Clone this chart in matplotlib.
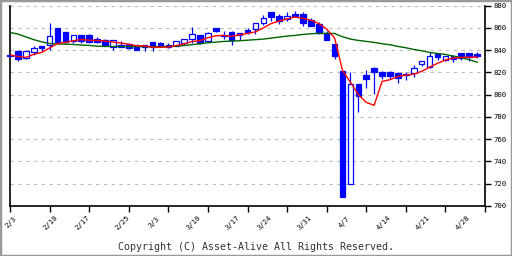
import matplotlib
matplotlib.use("Agg")
import matplotlib.pyplot as plt
import matplotlib.transforms as mtransforms
from matplotlib.patches import Rectangle

# daily candles (open, high, low, close), one per trading day from 2/3
opens = [835.8, 839.2, 833.2, 838.6, 843.7, 844.3, 859.9, 856.3, 847.9, 853.6,
         853.6, 849.7, 849.1, 843.1, 844.9, 845.8, 843.4, 843.1, 847.3, 846.4,
         844.6, 844.0, 846.1, 849.7, 853.6, 848.5, 859.9, 853.9, 856.3, 853.3,
         858.1, 859.3, 864.7, 874.0, 870.7, 867.7, 872.5, 872.5, 867.1, 863.5,
         855.7, 845.5, 821.5, 719.4, 809.6, 817.7, 824.3, 820.7, 820.7, 819.8,
         818.0, 819.2, 827.3, 825.2, 836.6, 831.2, 834.8, 837.2, 837.2, 836.6]
highs = [836.2, 839.5, 839.2, 843.7, 843.7, 864.1, 860.2, 856.5, 853.6, 853.8,
         854.5, 851.8, 850.0, 849.1, 848.5, 846.7, 845.2, 844.3, 847.3, 847.6,
         846.4, 848.0, 850.0, 860.5, 854.0, 856.3, 860.0, 857.2, 857.2, 855.7,
         859.9, 864.1, 871.6, 874.2, 872.5, 874.0, 875.2, 874.0, 868.6, 865.0,
         857.0, 846.0, 821.5, 820.7, 809.6, 822.2, 824.5, 821.0, 821.0, 820.0,
         820.7, 826.7, 830.3, 838.1, 837.0, 835.0, 835.7, 837.5, 837.5, 838.6]
lows = [834.8, 830.5, 831.7, 835.6, 839.5, 840.1, 846.1, 846.7, 846.7, 846.7,
        846.1, 846.7, 843.7, 840.1, 842.5, 840.7, 840.1, 839.5, 839.5, 842.8,
        842.2, 843.7, 845.0, 846.1, 845.2, 847.3, 856.0, 849.7, 844.6, 849.1,
        854.2, 854.2, 862.6, 866.5, 863.2, 866.5, 869.5, 861.7, 861.7, 855.0,
        849.0, 831.7, 708.5, 719.4, 784.7, 805.7, 800.6, 813.8, 813.8, 810.8,
        813.2, 815.9, 826.1, 823.7, 831.2, 830.0, 829.7, 831.2, 830.3, 832.7]
closes = [835.2, 831.7, 839.2, 842.2, 841.6, 852.7, 847.3, 847.3, 853.6, 847.9,
          847.3, 847.3, 844.3, 849.1, 843.1, 841.9, 840.1, 844.3, 843.1, 843.4,
          842.8, 847.9, 849.7, 854.5, 846.7, 855.4, 857.2, 852.7, 849.1, 855.7,
          856.3, 864.1, 868.6, 870.1, 866.5, 870.7, 871.0, 864.1, 861.7, 855.1,
          849.1, 834.7, 708.5, 809.3, 799.1, 814.1, 820.7, 816.8, 816.8, 815.3,
          818.5, 823.7, 830.3, 834.8, 833.6, 834.8, 832.1, 833.3, 834.2, 834.5]

# moving averages
ma_short = [835.6, 834.5, 833.5, 836.3, 838.0, 842.0, 846.0, 847.0, 848.5, 849.6, 849.0,
            848.8, 848.2, 847.4, 846.5, 845.3, 844.0, 843.8, 842.7, 842.7, 842.9,
            844.2, 845.8, 847.8, 848.6, 851.2, 853.0, 853.3, 852.5, 853.8, 855.0,
            856.5, 860.0, 864.0, 866.2, 868.2, 869.8, 868.6, 867.0, 864.0, 859.0,
            851.0, 821.8, 811.3, 800.1, 793.1, 790.5, 812.0, 813.5, 816.5, 817.6,
            818.5, 821.0, 824.8, 828.2, 831.2, 833.0, 833.6, 833.6, 833.8]
ma_long = [856.0, 854.5, 852.0, 849.5, 847.5, 846.0, 845.6, 845.4, 845.2, 844.6,
           844.3, 843.6, 843.4, 843.4, 843.4, 843.3, 843.3, 843.2, 843.1, 843.2,
           843.4, 843.6, 844.2, 845.0, 845.8, 846.7, 847.3, 847.9, 848.2, 848.5,
           849.0, 849.5, 850.0, 850.9, 851.8, 852.7, 853.3, 854.2, 854.8, 855.1,
           855.1, 855.0, 852.1, 850.0, 848.8, 847.9, 847.0, 845.8, 844.9, 843.4,
           842.2, 840.7, 839.5, 838.0, 837.1, 836.2, 834.7, 833.3, 831.5, 829.2]

date_labels = ["2/3", "2/10", "2/17", "2/25", "3/3", "3/10", "3/17",
               "3/24", "3/31", "4/7", "4/14", "4/21", "4/28"]
date_index = [0, 5, 9, 14, 18, 23, 28, 32, 37, 42, 47, 52, 57]
price_ticks = [700, 720, 740, 760, 780, 800, 820, 840, 860, 880]

mono = "DejaVu Sans Mono"
fig = plt.figure(figsize=(5.12, 2.56), dpi=100)
ax = fig.add_axes([10 / 512, 50 / 256, 475 / 512, 200.3 / 256])

n = len(closes)
xs = list(range(n))
for i in xs:
    o, h, l, c = opens[i], highs[i], lows[i], closes[i]
    ax.vlines(i, l, h, color="#0000ff", lw=0.9, zorder=2)
    bot = min(o, c)
    hgt = max(abs(c - o), 0.5)
    fc = "white" if c > o else "#0000ff"
    ax.bar(i, hgt, bottom=bot, width=0.7, facecolor=fc, edgecolor="#0000ff",
           lw=0.9, zorder=3, clip_on=False)

ax.plot(xs, ma_long, color="#006400", lw=1.0, zorder=4)
ax.plot(xs, ma_short, color="#ff0000", lw=1.0, zorder=5)

ax.set_xlim(0, 60)
ax.set_ylim(700, 880)

# axes: right price scale, no top line
ax.spines["top"].set_visible(False)
for s in ["left", "right", "bottom"]:
    ax.spines[s].set_color("black")
    ax.spines[s].set_linewidth(1.2)
ax.yaxis.tick_right()
ax.set_yticks(price_ticks)
ax.set_yticklabels([str(p) for p in price_ticks], fontsize=5.2, family=mono)
ax.tick_params(axis="y", direction="out", length=4.5, width=1, pad=1.5, colors="black")
ax.set_xticks(range(0, 61, 5))
ax.set_xticklabels([])
ax.tick_params(axis="x", direction="out", length=4.5, width=1)
ax.yaxis.grid(True, color="#bbbbbb", linestyle=(0, (3, 4)), lw=0.8)
ax.set_axisbelow(True)

trans = mtransforms.blended_transform_factory(ax.transData, ax.transAxes)
for lab, idx in zip(date_labels, date_index):
    ax.text(idx + 0.15, -0.082, lab, rotation=45, ha="center", va="center",
            fontsize=5.2, family=mono, transform=trans)

fig.text(0.5, (256 - 246.5) / 256, "Copyright (C) Asset-Alive All Rights Reserved.",
         ha="center", va="center", fontsize=7.2, family=mono, color="#333333")

# grey frame around the picture
fig.patches.append(Rectangle((0, 0), 1, 1, transform=fig.transFigure, fill=False,
                             edgecolor="#999999", lw=2.5))

fig.savefig("out.png", dpi=100)
